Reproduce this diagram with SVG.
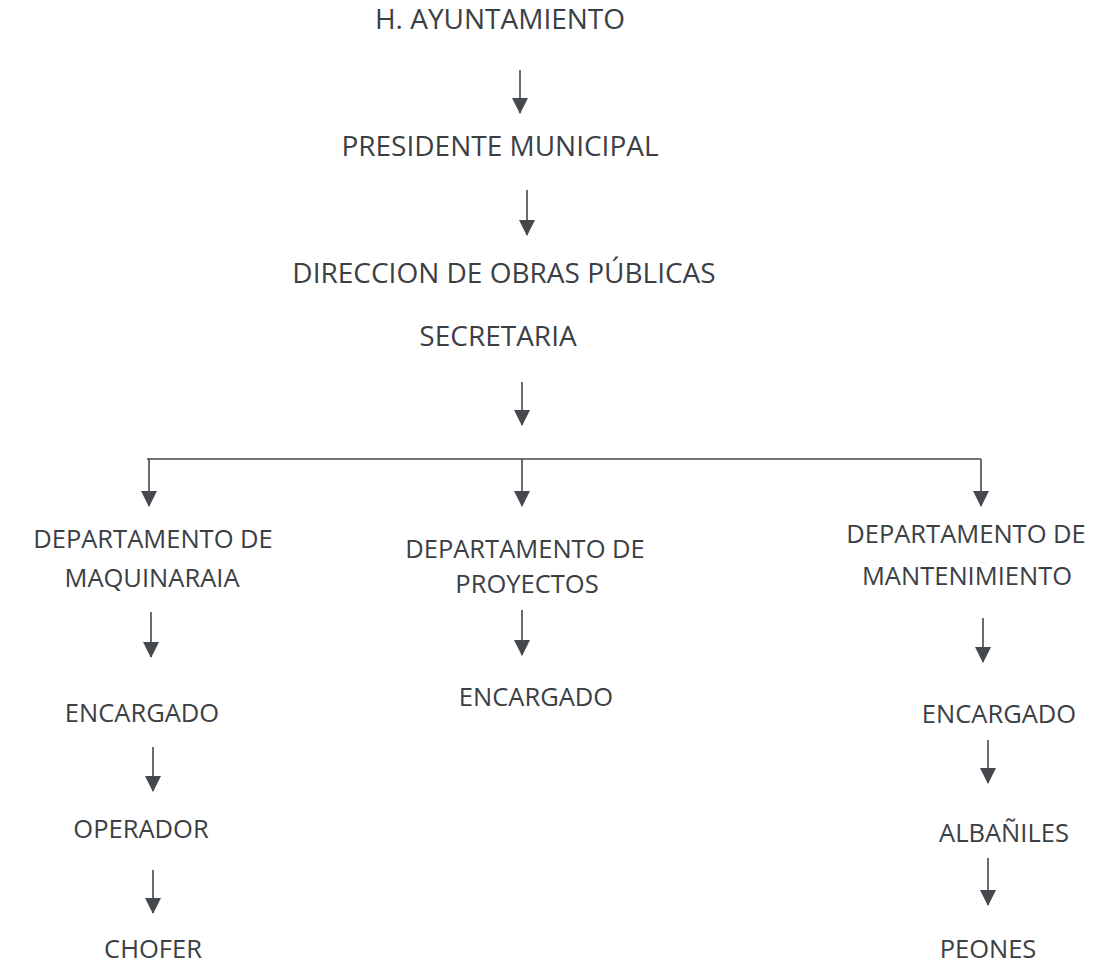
<svg xmlns="http://www.w3.org/2000/svg" width="1094" height="966" viewBox="0 0 1094 966">
<style>
text{font-family:"Open Sans","Liberation Sans",sans-serif;fill:#3b4045;text-anchor:middle}
.t{font-size:28px}
.s{font-size:25.5px}
.c line{stroke:#45494d;stroke-width:1.6}
</style>
<defs>
<marker id="a" markerUnits="userSpaceOnUse" markerWidth="16" markerHeight="16" refX="15" refY="8" orient="auto" viewBox="0 0 16 16">
<path d="M0,0 L16,8 L0,16 z" fill="#45494d"/>
</marker>
</defs>
<rect width="1094" height="966" fill="#fff"/>
<g class="c" id="connectors">
<line x1="520" y1="70" x2="520" y2="113" marker-end="url(#a)"/>
<line x1="527" y1="190" x2="527" y2="235" marker-end="url(#a)"/>
<line x1="522" y1="382" x2="522" y2="425" marker-end="url(#a)"/>
<line x1="147" y1="459" x2="981" y2="459"/>
<line x1="149" y1="459" x2="149" y2="506" marker-end="url(#a)"/>
<line x1="522" y1="459" x2="522" y2="506" marker-end="url(#a)"/>
<line x1="981" y1="459" x2="981" y2="506" marker-end="url(#a)"/>
<line x1="151" y1="612" x2="151" y2="657" marker-end="url(#a)"/>
<line x1="153" y1="747" x2="153" y2="791" marker-end="url(#a)"/>
<line x1="153" y1="870" x2="153" y2="913" marker-end="url(#a)"/>
<line x1="522" y1="610" x2="522" y2="655" marker-end="url(#a)"/>
<line x1="983" y1="618" x2="983" y2="662" marker-end="url(#a)"/>
<line x1="988" y1="740" x2="988" y2="783" marker-end="url(#a)"/>
<line x1="988" y1="858" x2="988" y2="905" marker-end="url(#a)"/>
</g>
<g id="n1"><text class="t" x="500" y="29">H. AYUNTAMIENTO</text></g>
<g id="n2"><text class="t" x="500" y="156">PRESIDENTE MUNICIPAL</text></g>
<g id="n3"><text class="t" x="504" y="283">DIRECCION DE OBRAS PÚBLICAS</text><text class="t" x="498" y="346">SECRETARIA</text></g>
<g id="n4"><text class="s" x="153" y="548">DEPARTAMENTO DE</text><text class="s" x="152" y="587">MAQUINARAIA</text></g>
<g id="n5"><text class="s" x="525" y="558">DEPARTAMENTO DE</text><text class="s" x="527" y="593">PROYECTOS</text></g>
<g id="n6"><text class="s" x="966" y="543">DEPARTAMENTO DE</text><text class="s" x="967" y="585">MANTENIMIENTO</text></g>
<g id="n7"><text class="s" x="142" y="722">ENCARGADO</text></g>
<g id="n8"><text class="s" x="141" y="838">OPERADOR</text></g>
<g id="n9"><text class="s" x="153" y="958">CHOFER</text></g>
<g id="n10"><text class="s" x="536" y="706">ENCARGADO</text></g>
<g id="n11"><text class="s" x="999" y="723">ENCARGADO</text></g>
<g id="n12"><text class="s" x="1004" y="842">ALBAÑILES</text></g>
<g id="n13"><text class="s" x="988" y="958">PEONES</text></g>
</svg>
